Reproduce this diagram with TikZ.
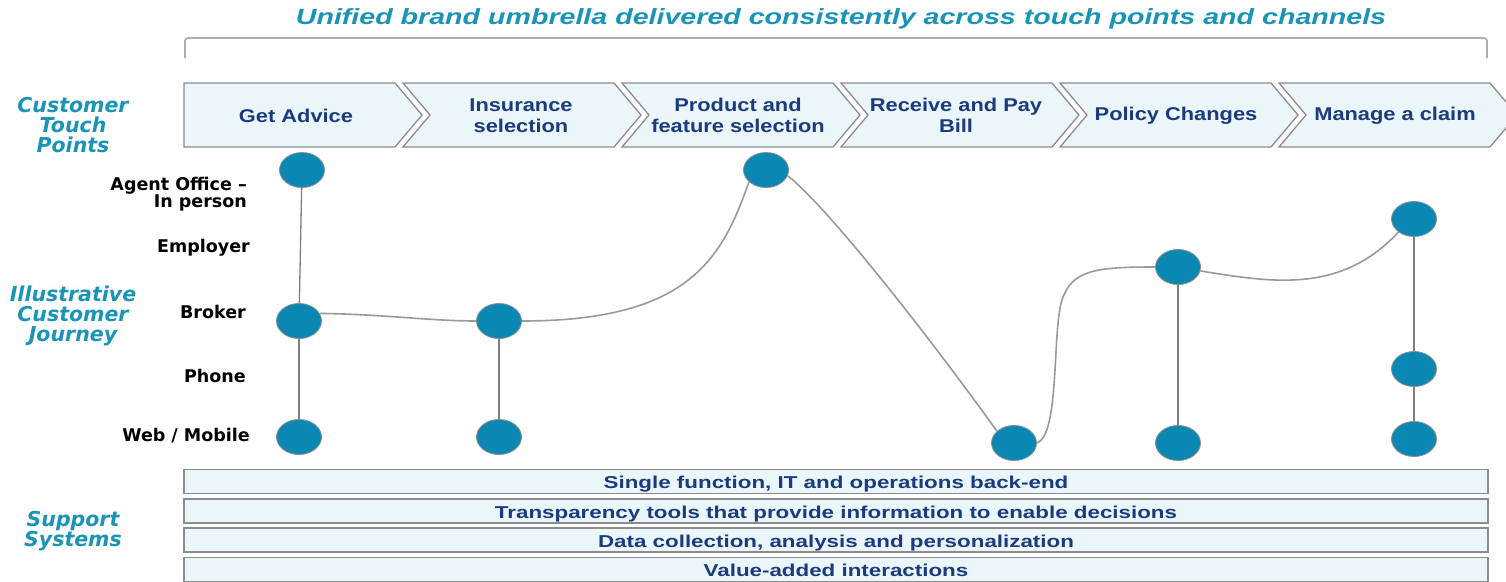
\documentclass[tikz,border=0pt]{standalone}
\usepackage{fontspec}
\setmainfont{Liberation Sans}
\newfontfamily\stepfont[FakeStretch=1.18]{Liberation Sans}
\newfontfamily\barfont[FakeStretch=1.3]{Liberation Sans}
\newfontfamily\headfont[FakeStretch=1.3]{Liberation Sans}
\newfontfamily\rowfont{DejaVu Sans}
\usetikzlibrary{shapes.geometric}

\definecolor{brandteal}{HTML}{1A94B6}
\definecolor{textnavy}{HTML}{1B3A80}
\definecolor{paleblue}{HTML}{EAF6F9}
\definecolor{dotblue}{HTML}{0A88B3}
\definecolor{edgegrey}{HTML}{8C8C8C}
\definecolor{pathgrey}{HTML}{999999}

\tikzset{
  sectionlabel/.style={text=brandteal, font=\rowfont\bfseries\itshape\fontsize{20.5}{20}\selectfont, align=center, inner sep=0},
  channel/.style={text=black, font=\rowfont\bfseries\fontsize{17.5}{17}\selectfont, align=right, anchor=east, inner sep=0},
  stagebox/.style={fill=paleblue, draw=edgegrey, line width=1.3pt, line join=miter},
  stagetext/.style={text=textnavy, font=\stepfont\bfseries\fontsize{18.5}{21}\selectfont, align=center, inner sep=0},
  supportbar/.style={fill=paleblue, draw=edgegrey, line width=1.3pt, minimum width=1304pt, minimum height=24pt, inner sep=0,
    text height=14pt, text depth=0pt, text=textnavy, font=\barfont\bfseries\fontsize{17.2}{19}\selectfont},
  dot/.style={ellipse, fill=dotblue, draw=edgegrey, line width=0.8pt, minimum width=45pt, minimum height=35pt, inner sep=0},
  vlink/.style={draw=edgegrey!90!black, line width=1.3pt},
  journey/.style={draw=pathgrey, line width=1.6pt},
}

\begin{document}
\begin{tikzpicture}[x=1pt, y=-1pt]
\useasboundingbox (0,0) rectangle (1506,581);

% headline and umbrella bracket
\node[text=brandteal, font=\headfont\bfseries\itshape\fontsize{22}{24}\selectfont, inner sep=0] (headline) at (841,18.5)
  {Unified brand umbrella delivered consistently across touch points and channels};
\draw[draw=pathgrey!80, line width=1.8pt, rounded corners=3pt] (185,58) -- (185,38) -- (1487,38) -- (1487,58);

% stage chevrons
\foreach \i/\tx/\label in {0/296/{Get Advice}, 1/521/{Insurance\\selection}, 2/738/{Product and\\feature selection},
    3/956/{Receive and Pay\\Bill}, 4/1176/{Policy Changes}, 5/1395/{Manage a claim}} {
  \pgfmathsetmacro{\xl}{184+219*\i}
  \pgfmathsetmacro{\xr}{\xl+211}
  \pgfmathsetmacro{\xt}{\xr+27}
  \pgfmathsetmacro{\xn}{\i==0 ? \xl : \xl+27}
  \draw[stagebox] (\xl,83) -- (\xr,83) -- (\xt,115) -- (\xr,147) -- (\xl,147) -- (\xn,115) -- cycle;
  \node[stagetext] (stage\i) at (\tx,115.5) {\label};
}

% section labels
\node[sectionlabel] (touchlbl) at (73,125) {Customer\\Touch\\Points};
\node[sectionlabel] (journeylbl) at (73,316) {Illustrative\\Customer\\Journey};
\node[sectionlabel] (supportlbl) at (73,531) {Support\\Systems};

% channel labels
\node[channel] (agent) at (247,194.5) {Agent Office –\\In person};
\node[channel] (employer) at (250,248) {Employer};
\node[channel] (broker) at (246,312) {Broker};
\node[channel] (phone) at (246,376) {Phone};
\node[channel] (web) at (250,436) {Web / Mobile};

% support systems
\node[supportbar] (bar1) at (836,481.5) {Single function, IT and operations back-end};
\node[supportbar] (bar2) at (836,511) {Transparency tools that provide information to enable decisions};
\node[supportbar] (bar3) at (836,540) {Data collection, analysis and personalization};
\node[supportbar] (bar4) at (836,569.5) {Value-added interactions};

% touch point dots
\node[dot] (A1) at (302,170) {};
\node[dot] (B1) at (299,321) {};
\node[dot] (W1) at (299,437) {};
\node[dot] (B2) at (499,321) {};
\node[dot] (W2) at (499,437) {};
\node[dot] (A3) at (766,170) {};
\node[dot] (W4) at (1014,443) {};
\node[dot] (E5) at (1178,267) {};
\node[dot] (W5) at (1178,443) {};
\node[dot] (E6) at (1414,219) {};
\node[dot] (P6) at (1414,369) {};
\node[dot] (W6) at (1414,439) {};

% links within one stage
\draw[vlink] (A1) -- (B1);
\draw[vlink] (B1) -- (W1);
\draw[vlink] (B2) -- (W2);
\draw[vlink] (E5) -- (W5);
\draw[vlink] (E6) -- (P6);
\draw[vlink] (P6) -- (W6);

% the customer's path from stage to stage
\draw[journey] (B1.20) .. controls (380,314) and (430,321) .. (B2.west);
\draw[journey] (B2.east) .. controls (690,321) and (722,258) .. (A3.215);
\draw[journey] (A3.-15) .. controls (820,200) and (911,312) .. (W4.145);
\draw[journey] (W4.0) .. controls (1060,435) and (1052,330) .. (1062,300)
  .. controls (1072,270) and (1095,267) .. (E5.west);
\draw[journey] (E5.-10) .. controls (1270,282) and (1340,295) .. (E6.220);
\end{tikzpicture}
\end{document}
